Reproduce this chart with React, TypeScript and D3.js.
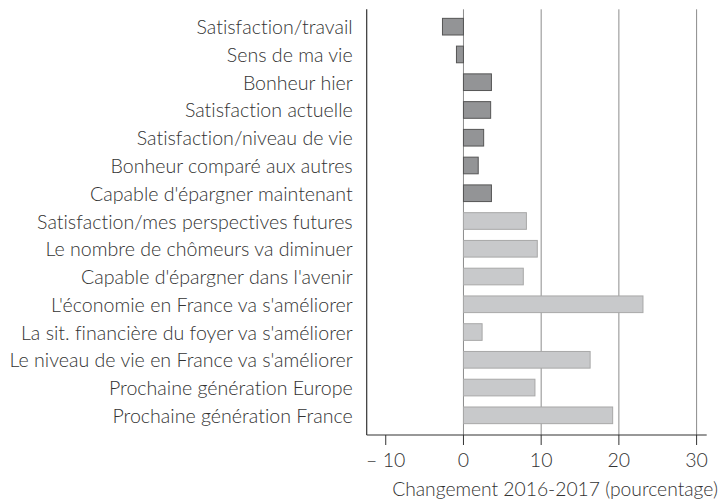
import React from "react";
import * as d3 from "d3";

const categories = [
  "Satisfaction/travail",
  "Sens de ma vie",
  "Bonheur hier",
  "Satisfaction actuelle",
  "Satisfaction/niveau de vie",
  "Bonheur comparé aux autres",
  "Capable d'épargner maintenant",
  "Satisfaction/mes perspectives futures",
  "Le nombre de chômeurs va diminuer",
  "Capable d'épargner dans l'avenir",
  "L'économie en France va s'améliorer",
  "La sit. financière du foyer va s'améliorer",
  "Le niveau de vie en France va s'améliorer",
  "Prochaine génération Europe",
  "Prochaine génération France",
];
const values = [-2.7, -0.9, 3.6, 3.5, 2.6, 1.9, 3.6, 8.1, 9.5, 7.7, 23.1, 2.4, 16.3, 9.2, 19.2];
const groups = ["present", "present", "present", "present", "present", "present", "present",
  "future", "future", "future", "future", "future", "future", "future", "future"];
const tickValues = [-10, 0, 10, 20, 30];
const xTitle = "Changement 2016-2017 (pourcentage)";

export default function App() {
  const W = 721, H = 500;
  const x = d3.scaleLinear().domain([-12.45, 31.3]).range([366.7, 706.7]);
  const y = d3.scaleBand().domain(categories).range([12.8, 429.2]).paddingInner(0.4).paddingOuter(0.2);
  const top = 9.3, bottom = 435;
  const font = "Lato, 'Open Sans', sans-serif";
  const txtStyle = { fontVariantLigatures: "none" as const };
  const fmt = (v: number) => (v < 0 ? "\u2013 " + Math.abs(v) : String(v));
  return (
    <svg width={W} height={H} style={{ position: "absolute", left: 0, top: 0 }}>
      <rect width={W} height={H} fill="#fff" />
      {tickValues.filter((t) => t >= 0).map((t) => (
        <line key={"g" + t} x1={x(t)} x2={x(t)} y1={top} y2={bottom} stroke="#8c8c8c" strokeWidth={1} />
      ))}
      {categories.map((c, i) => {
        const v = values[i];
        const dark = groups[i] === "present";
        return (
          <rect
            key={c}
            x={x(Math.min(0, v))}
            y={y(c)!}
            width={Math.abs(x(v) - x(0))}
            height={y.bandwidth()}
            fill={dark ? "#939496" : "#c8c9cb"}
            stroke={dark ? "#555" : "#a8a8a8"}
            strokeWidth={1}
          />
        );
      })}
      <line x1={x.range()[0]} x2={x.range()[0]} y1={top} y2={bottom} stroke="#333" strokeWidth={1.2} />
      <line x1={x.range()[0]} x2={x.range()[1]} y1={bottom} y2={bottom} stroke="#333" strokeWidth={1.2} />
      {tickValues.map((t) => (
        <g key={"t" + t}>
          <line x1={x(t)} x2={x(t)} y1={bottom} y2={bottom + 10} stroke="#333" strokeWidth={1} />
          <text x={x(t)} y={459} textAnchor="middle" dominantBaseline="central" fontFamily={font} fontSize={19.5} fontWeight={300} fill="#333" style={txtStyle}>
            {fmt(t)}
          </text>
        </g>
      ))}
      {categories.map((c) => (
        <text key={"l" + c} x={352.7} y={y(c)! + y.bandwidth() / 2} textAnchor="end" dominantBaseline="central" fontFamily={font} fontSize={19.6} fontWeight={300} fill="#333" style={txtStyle}>
          {c}
        </text>
      ))}
      <text x={555} y={488} textAnchor="middle" dominantBaseline="central" fontFamily={font} fontSize={19.3} fontWeight={300} fill="#333" style={txtStyle}>
        {xTitle}
      </text>
    </svg>
  );
}
